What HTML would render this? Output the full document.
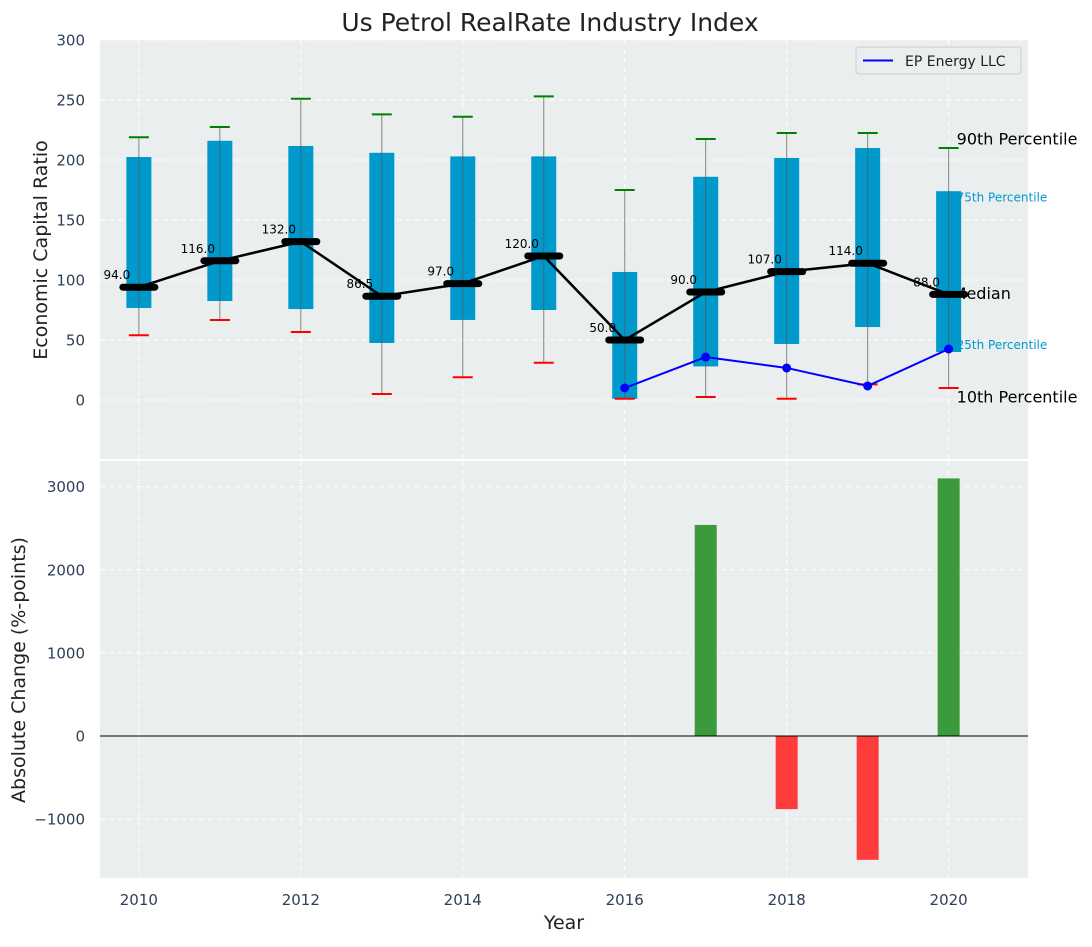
<!DOCTYPE html>
<html><head><meta charset="utf-8"><style>
body{margin:0;background:#fff;}
svg text{font-family:"DejaVu Sans","Liberation Sans",sans-serif;}
</style></head><body>
<svg id="chart" width="1092" height="942" xmlns="http://www.w3.org/2000/svg"></svg>
<script>
const years=[2010,2011,2012,2013,2014,2015,2016,2017,2018,2019,2020];
const p90=[219,227.5,251,238,236,253,175,217.5,222.5,222.5,210];
const p75=[202.5,216,211.7,206,203,203,106.7,186,201.7,210,174];
const medians=[94,116,132,86.5,97,120,50,90,107,114,88];
const p25=[76.7,82.5,75.8,47.5,66.7,75,1,28,46.7,60.8,40];
const p10=[54,66.7,56.7,5,19,31,1,2.5,1,13,10];
const epYears=[2016,2017,2018,2019,2020];
const epValues=[10,35.8,26.7,11.7,42.5];
const changeYears=[2017,2018,2019,2020];
const changeValues=[2540,-880,-1490,3100];
const topTicks=[0,50,100,150,200,250,300];
const botTicks=[-1000,0,1000,2000,3000];
const xTicks=[2010,2012,2014,2016,2018,2020];

const NS='http://www.w3.org/2000/svg';
const svg=document.getElementById('chart');
function el(tag,attrs,parent){const e=document.createElementNS(NS,tag);for(const k in attrs)e.setAttribute(k,attrs[k]);(parent||svg).appendChild(e);return e;}
const L=100,R=1028;
const x=v=>L+(v-2009.52)/(2020.98-2009.52)*(R-L);
const yT=v=>400-1.2*v;
const yB=v=>736-0.0831*v;

let e=el('rect',{x:L,y:40,width:R-L,height:419,fill:'#ebeeee'});

e=el('rect',{x:L,y:461,width:R-L,height:417,fill:'#ebeeee'});


xTicks.forEach(t=>{
  e=el('line',{x1:x(t),x2:x(t),y1:40,y2:459,stroke:'#fff','stroke-dasharray':'5,4','stroke-width':1});
  
  e=el('line',{x1:x(t),x2:x(t),y1:461,y2:878,stroke:'#fff','stroke-dasharray':'5,4','stroke-width':1});
  
  e=el('text',{x:x(t),y:905,'text-anchor':'middle','font-size':15,fill:'#2e4058'});e.textContent=t;
  
});
topTicks.forEach(t=>{
  e=el('line',{x1:L,x2:R,y1:yT(t),y2:yT(t),stroke:'#fff','stroke-dasharray':'5,4','stroke-width':1});
  
  e=el('text',{x:85,y:yT(t)+5.5,'text-anchor':'end','font-size':15,fill:'#2e4058'});e.textContent=t;
  
});
botTicks.forEach(t=>{
  e=el('line',{x1:L,x2:R,y1:yB(t),y2:yB(t),stroke:'#fff','stroke-dasharray':'5,4','stroke-width':1});
  
  e=el('text',{x:85,y:yB(t)+5.5,'text-anchor':'end','font-size':15,fill:'#2e4058'});e.textContent=(t<0?'\u2212'+(-t):t);
  
});

const last=years.length-1, lx=x(years[last])+8;
[[p90[last],'90th Percentile',16,'#000',-9,lx],[p75[last],'75th Percentile',12,'#0099cc',6,lx],[medians[last],'Median',16,'#000',-1,lx-4],[p25[last],'25th Percentile',12,'#0099cc',-7,lx],[p10[last],'10th Percentile',16,'#000',9,lx]].forEach(([v,t,fs,c,dy,xx])=>{
  e=el('text',{x:xx,y:yT(v)+fs*0.35+dy,'font-size':fs,fill:c});e.textContent=t;
  
});

years.forEach((yr,i)=>{
  const cx=x(yr);
  e=el('rect',{x:cx-12.5,y:yT(p75[i]),width:25,height:yT(p25[i])-yT(p75[i]),fill:'#0099cc'});
  
  e=el('line',{x1:cx,x2:cx,y1:yT(p90[i]),y2:yT(p10[i]),stroke:'#555','stroke-opacity':0.7,'stroke-width':1});
  
  e=el('line',{x1:cx-10,x2:cx+10,y1:yT(p90[i]),y2:yT(p90[i]),stroke:'green','stroke-width':2});
  
  e=el('line',{x1:cx-10,x2:cx+10,y1:yT(p10[i]),y2:yT(p10[i]),stroke:'red','stroke-width':2});
  
});
e=el('polyline',{points:years.map((yr,i)=>x(yr)+','+yT(medians[i])).join(' '),fill:'none',stroke:'#000','stroke-width':2.5});

years.forEach((yr,i)=>{
  e=el('line',{x1:x(yr)-16,x2:x(yr)+16,y1:yT(medians[i]),y2:yT(medians[i]),stroke:'#000','stroke-width':7,'stroke-linecap':'round'});
  
  e=el('text',{x:x(yr)-22,y:yT(medians[i])-8,'text-anchor':'middle','font-size':12,fill:'#000'});e.textContent=medians[i].toFixed(1);
  
});
e=el('polyline',{points:epYears.map((yr,i)=>x(yr)+','+yT(epValues[i])).join(' '),fill:'none',stroke:'#0000ff','stroke-width':2});

epYears.forEach((yr,i)=>{
  e=el('circle',{cx:x(yr),cy:yT(epValues[i]),r:4.5,fill:'#0000ff'});
  
});

changeYears.forEach((yr,i)=>{
  const v=changeValues[i];
  e=el('rect',{x:x(yr)-11,y:Math.min(yB(v),yB(0)),width:22,height:Math.abs(yB(v)-yB(0)),fill:v>=0?'#3a9a3c':'#ff3c3c'});
  
});
e=el('line',{x1:L,x2:R,y1:yB(0),y2:yB(0),stroke:'#000','stroke-width':1});


const g=el('g',{});
el('rect',{x:856,y:47,width:165,height:27,rx:3,fill:'#ebeeee',stroke:'#ccc'},g);
el('line',{x1:863,x2:893,y1:60.5,y2:60.5,stroke:'#0000ff','stroke-width':2},g);
e=el('text',{x:905,y:66,'font-size':14,fill:'#222'},g);e.textContent='EP Energy LLC';

e=el('text',{x:550,y:31,'text-anchor':'middle','font-size':25,fill:'#222'});e.textContent='Us Petrol RealRate Industry Index';

e=el('text',{x:47,y:250,'text-anchor':'middle','font-size':19,fill:'#222',transform:'rotate(-90 47 250)'});e.textContent='Economic Capital Ratio';

e=el('text',{x:25,y:670,'text-anchor':'middle','font-size':19,fill:'#222',transform:'rotate(-90 25 670)'});e.textContent='Absolute Change (%-points)';

e=el('text',{x:564,y:929,'text-anchor':'middle','font-size':19,fill:'#222'});e.textContent='Year';

</script>
</body></html>
